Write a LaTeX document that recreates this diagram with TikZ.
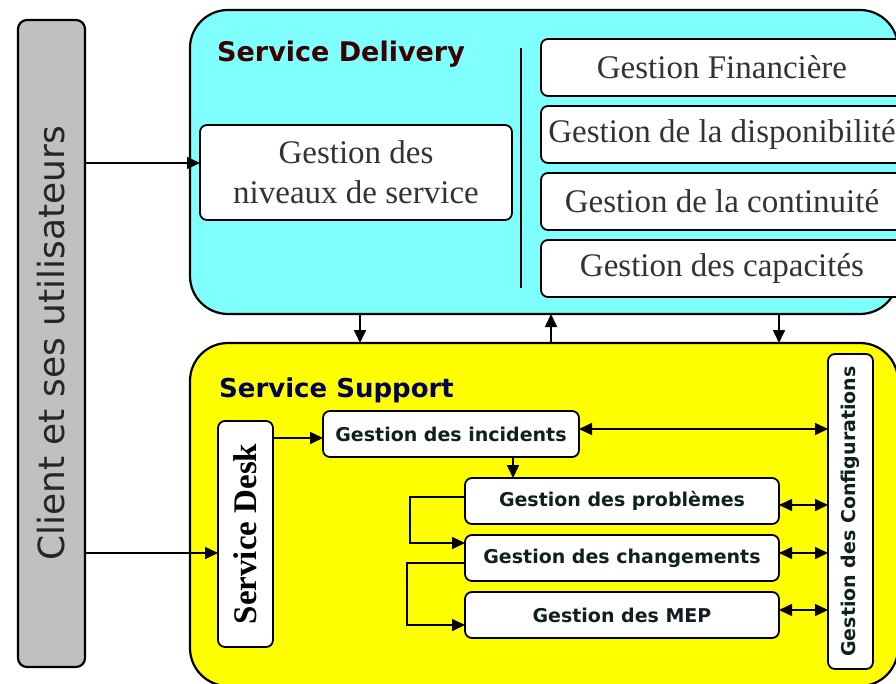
\documentclass[tikz,border=0pt]{standalone}
\usepackage{fontspec}
\usepackage{graphicx}
\setmainfont{Liberation Serif}
\setsansfont{DejaVu Sans}
\usetikzlibrary{arrows.meta}

\definecolor{delivcyan}{HTML}{80FFFF}
\definecolor{suppyellow}{HTML}{FFFF00}
\definecolor{clientgray}{HTML}{C0C0C0}
\definecolor{delivred}{HTML}{3A0000}
\definecolor{suppblue}{HTML}{000050}
\definecolor{boxtext}{HTML}{102020}

\begin{document}
\begin{tikzpicture}[x=1pt,y=-1pt,
    panel/.style={draw,line width=2.2pt,rounded corners=38pt,anchor=north west,inner sep=0pt,outer sep=0pt},
    box/.style={draw,line width=1.8pt,fill=white,rounded corners=7pt,anchor=north west,inner sep=0pt,outer sep=0pt,align=center},
    serifbox/.style={box,font=\fontsize{33}{40}\selectfont,text=black!80},
    sansbox/.style={box,font=\sffamily\bfseries\fontsize{19}{22}\selectfont,text=boxtext},
    title/.style={anchor=base west,inner sep=0pt,font=\sffamily\bfseries\fontsize{27}{30}\selectfont},
    link/.style={line width=1.6pt,-{Triangle[length=13pt,width=12pt]}},
    duplex/.style={line width=1.6pt,{Triangle[length=13pt,width=12pt]}-{Triangle[length=13pt,width=12pt]}}]
    \useasboundingbox (0,0) rectangle (896,684);
    \clip (0,0) rectangle (896,684);
    % client
    \node[panel,fill=clientgray,rounded corners=9pt,minimum width=67pt,minimum height=647pt,
        font=\sffamily\fontsize{36}{40}\selectfont,text=black!85] (client) at (18,20)
        {\rotatebox{90}{Client et ses utilisateurs}};
    % service delivery
    \node[panel,fill=delivcyan,minimum width=708pt,minimum height=304pt] (delivery) at (190,10) {};
    \node[title,text=delivred] (deltitle) at (217,62) {Service Delivery};
    \draw[line width=2pt] (521,48) -- (521,288);
    \node[serifbox,minimum width=312pt,minimum height=95pt] (niveaux) at (200,125) {Gestion des\\niveaux de service};
    \foreach \name/\ytop/\txt in {fin/39/Gestion Financière,dispo/106/Gestion de la disponibilité,
        cont/173/Gestion de la continuité,capa/240/Gestion des capacités}{
        \node[serifbox,minimum width=362pt,minimum height=57pt] (\name) at (541,\ytop) {\txt};
    }
    % service support
    \node[panel,fill=suppyellow,minimum width=708pt,minimum height=343pt] (support) at (190,343) {};
    \node[title,text=suppblue,font=\sffamily\bfseries\fontsize{26}{30}\selectfont] (supptitle) at (219,397) {Service Support};
    \node[box,minimum width=55pt,minimum height=226pt,font=\bfseries\fontsize{33}{36}\selectfont] (desk) at (218,421)
        {\rotatebox{90}{Service Desk}};
    \node[sansbox,minimum width=256pt,minimum height=46pt] (incidents) at (323,411) {Gestion des incidents};
    \node[sansbox,minimum width=314pt,minimum height=46pt] (probl) at (465,478) {Gestion des problèmes};
    \node[sansbox,minimum width=314pt,minimum height=46pt] (chang) at (465,535) {Gestion des changements};
    \node[sansbox,minimum width=314pt,minimum height=46pt] (mep) at (465,592) {Gestion des MEP};
    \node[sansbox,minimum width=45pt,minimum height=315pt] (config) at (828,354)
        {\rotatebox{90}{Gestion des Configurations}};
    % arrows
    \draw[link] (client.east |- 0,163) -- (niveaux.west |- 0,163);
    \draw[link] (client.east |- 0,553) -- (desk.west |- 0,553);
    \draw[link] (360,0 |- delivery.south) -- (360,0 |- support.north);
    \draw[link] (551,0 |- support.north) -- (551,0 |- delivery.south);
    \draw[link] (779,0 |- delivery.south) -- (779,0 |- support.north);
    \draw[link] (desk.east |- 0,438) -- (incidents.west |- 0,438);
    \draw[link] (513,0 |- incidents.south) -- (513,0 |- probl.north);
    \draw[duplex] (incidents.east |- 0,429) -- (config.west |- 0,429);
    \draw[duplex] (probl.east |- 0,505) -- (config.west |- 0,505);
    \draw[duplex] (chang.east |- 0,553) -- (config.west |- 0,553);
    \draw[duplex] (mep.east |- 0,610) -- (config.west |- 0,610);
    \draw[link] (probl.west |- 0,497) -| (410,543) -- (chang.west |- 0,543);
    \draw[link] (chang.west |- 0,563) -| (407,625) -- (mep.west |- 0,625);
\end{tikzpicture}
\end{document}
